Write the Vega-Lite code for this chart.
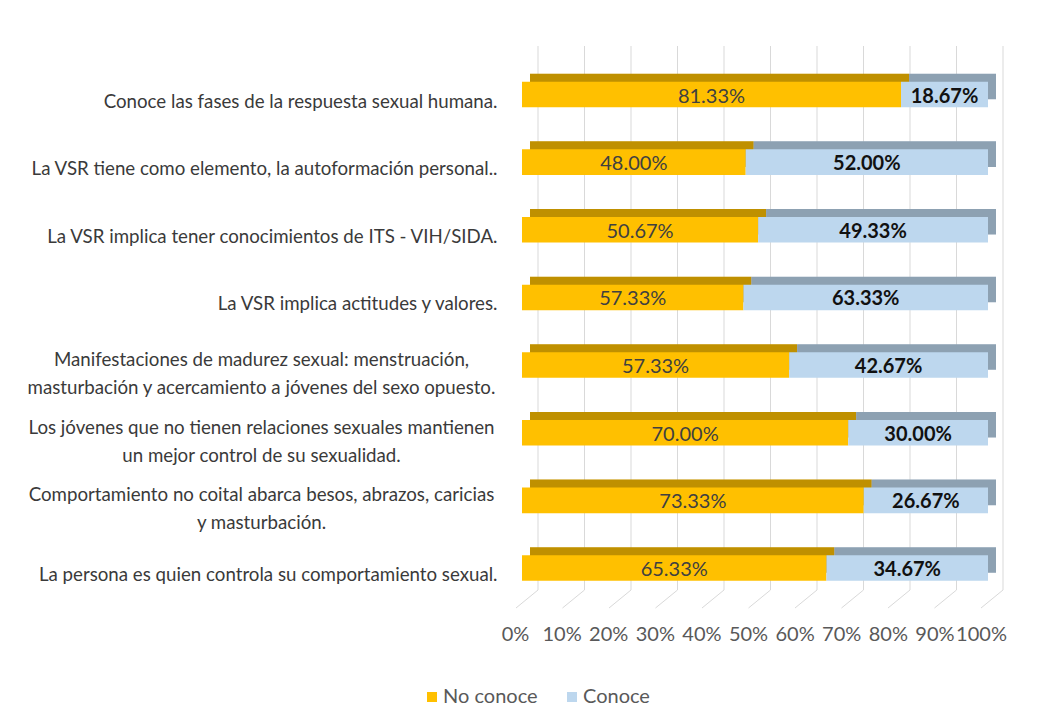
{
  "$schema": "https://vega.github.io/schema/vega-lite/v6.json",
  "width": 466,
  "height": 544,
  "autosize": {"type": "none"},
  "padding": {"left": 522, "top": 46, "right": 53, "bottom": 132},
  "background": "white",
  "config": {"view": {"stroke": null}, "font": "Lato"},
  "datasets": {
    "resp": [
      {"pregunta": "Conoce las fases de la respuesta sexual humana.", "estado": "No conoce", "orden": 1, "pct": 0.8133},
      {"pregunta": "Conoce las fases de la respuesta sexual humana.", "estado": "Conoce", "orden": 2, "pct": 0.1867},
      {"pregunta": "La VSR tiene como elemento, la autoformación personal..", "estado": "No conoce", "orden": 1, "pct": 0.48},
      {"pregunta": "La VSR tiene como elemento, la autoformación personal..", "estado": "Conoce", "orden": 2, "pct": 0.52},
      {"pregunta": "La VSR implica tener conocimientos de ITS -  VIH/SIDA.", "estado": "No conoce", "orden": 1, "pct": 0.5067},
      {"pregunta": "La VSR implica tener conocimientos de ITS -  VIH/SIDA.", "estado": "Conoce", "orden": 2, "pct": 0.4933},
      {"pregunta": "La VSR implica actitudes y valores.", "estado": "No conoce", "orden": 1, "pct": 0.5733},
      {"pregunta": "La VSR implica actitudes y valores.", "estado": "Conoce", "orden": 2, "pct": 0.6333},
      {"pregunta": "Manifestaciones de madurez sexual: menstruación,|masturbación y acercamiento a jóvenes del sexo opuesto.", "estado": "No conoce", "orden": 1, "pct": 0.5733},
      {"pregunta": "Manifestaciones de madurez sexual: menstruación,|masturbación y acercamiento a jóvenes del sexo opuesto.", "estado": "Conoce", "orden": 2, "pct": 0.4267},
      {"pregunta": "Los jóvenes que no tienen relaciones sexuales mantienen|un mejor control de su sexualidad.", "estado": "No conoce", "orden": 1, "pct": 0.70},
      {"pregunta": "Los jóvenes que no tienen relaciones sexuales mantienen|un mejor control de su sexualidad.", "estado": "Conoce", "orden": 2, "pct": 0.30},
      {"pregunta": "Comportamiento no coital abarca besos, abrazos, caricias|y masturbación.", "estado": "No conoce", "orden": 1, "pct": 0.7333},
      {"pregunta": "Comportamiento no coital abarca besos, abrazos, caricias|y masturbación.", "estado": "Conoce", "orden": 2, "pct": 0.2667},
      {"pregunta": "La persona es quien controla su comportamiento sexual.", "estado": "No conoce", "orden": 1, "pct": 0.6533},
      {"pregunta": "La persona es quien controla su comportamiento sexual.", "estado": "Conoce", "orden": 2, "pct": 0.3467}
    ],
    "grid": [
      {"v": 0}, {"v": 0.1}, {"v": 0.2}, {"v": 0.3}, {"v": 0.4}, {"v": 0.5},
      {"v": 0.6}, {"v": 0.7}, {"v": 0.8}, {"v": 0.9}, {"v": 1}
    ]
  },
  "layer": [
    {
      "data": {"name": "grid"},
      "layer": [
        {
          "mark": {"type": "rule", "color": "#d9d9d9", "strokeWidth": 1},
          "encoding": {
            "x": {"field": "v", "type": "quantitative", "scale": {"domain": [0, 1], "range": [16, 481]}, "axis": null}
          }
        },
        {
          "mark": {"type": "rule", "color": "#d9d9d9", "strokeWidth": 1, "x2Offset": -22, "y2Offset": 18},
          "encoding": {
            "x": {"field": "v", "type": "quantitative"},
            "x2": {"field": "v"},
            "y": {"datum": 0, "type": "quantitative", "scale": {"domain": [0, 1]}, "axis": null},
            "y2": {"datum": 0}
          }
        }
      ]
    },
    {
      "data": {"name": "resp"},
      "encoding": {
        "y": {
          "field": "pregunta", "type": "nominal", "sort": null, "title": null,
          "scale": {"paddingInner": 0.6215, "paddingOuter": 0.332, "align": 0.795},
          "axis": {
            "orient": "left",
            "labelExpr": "split(datum.value, '|')",
            "labelFont": "Lato", "labelFontSize": 18.7, "labelColor": "#3a3a3a",
            "labelLimit": 700, "labelLineHeight": 28,
            "ticks": false, "tickSize": 0, "domain": false, "grid": false,
            "labelAlign": {"condition": {"test": "indexof(datum.value, '|') >= 0", "value": "center"}, "value": "right"},
            "labelPadding": {"condition": {"test": "indexof(datum.value, '|') >= 0", "value": 261}, "value": 25},
            "labelOffset": {"condition": {"test": "indexof(datum.value, '|') >= 0", "value": -5}, "value": 7}
          }
        },
        "order": {"field": "orden"},
        "detail": {"field": "estado"}
      },
      "layer": [
        {
          "mark": {"type": "bar", "xOffset": 8, "x2Offset": 8, "yOffset": -8, "y2Offset": -8},
          "encoding": {
            "x": {"field": "pct", "type": "quantitative", "stack": "normalize", "scale": {"domain": [0, 1]},
              "axis": {"orient": "bottom", "format": "%", "values": [0, 0.1, 0.2, 0.3, 0.4, 0.5, 0.6, 0.7, 0.8, 0.9, 1], "grid": false, "ticks": false, "domain": false,
                "labelFont": "Lato", "labelFontSize": 20, "labelColor": "#595959", "labelOffset": -7, "labelPadding": 34, "title": null, "labelFlush": false, "labelOverlap": false}},
            "color": {"field": "estado", "type": "nominal",
              "scale": {"domain": ["No conoce", "Conoce"], "range": ["#FFC000", "#BDD7EE"]},
              "legend": {"title": null, "orient": "none", "direction": "horizontal", "legendX": -100, "legendY": 641,
                "symbolType": "square", "symbolSize": 100, "symbolStrokeWidth": 0, "labelFont": "Lato", "labelFontSize": 20, "labelColor": "#595959", "labelOffset": 1, "columnPadding": 24}}
          }
        },
        {
          "mark": {"type": "bar", "color": "black", "opacity": 0.25, "xOffset": 8, "x2Offset": 8, "yOffset": -8, "y2Offset": -8},
          "encoding": {
            "x": {"field": "pct", "type": "quantitative", "stack": "normalize"}
          }
        },
        {
          "mark": {"type": "bar"},
          "encoding": {
            "x": {"field": "pct", "type": "quantitative", "stack": "normalize"},
            "color": {"field": "estado", "type": "nominal"}
          }
        },
        {
          "mark": {"type": "text", "font": "Lato", "fontSize": 20, "color": "#404040", "dy": 2},
          "encoding": {
            "x": {"field": "pct", "type": "quantitative", "stack": "normalize", "bandPosition": 0.5},
            "text": {"condition": {"test": "datum.estado == 'Conoce'", "value": ""}, "field": "pct", "type": "quantitative", "format": ".2%"}
          }
        },
        {
          "mark": {"type": "text", "font": "Lato", "fontSize": 20, "fontWeight": "bold", "color": "#111111", "dy": 2},
          "encoding": {
            "x": {"field": "pct", "type": "quantitative", "stack": "normalize", "bandPosition": 0.5},
            "text": {"condition": {"test": "datum.estado == 'No conoce'", "value": ""}, "field": "pct", "type": "quantitative", "format": ".2%"}
          }
        }
      ]
    }
  ],
  "resolve": {"scale": {"x": "independent", "y": "independent"}}
}
